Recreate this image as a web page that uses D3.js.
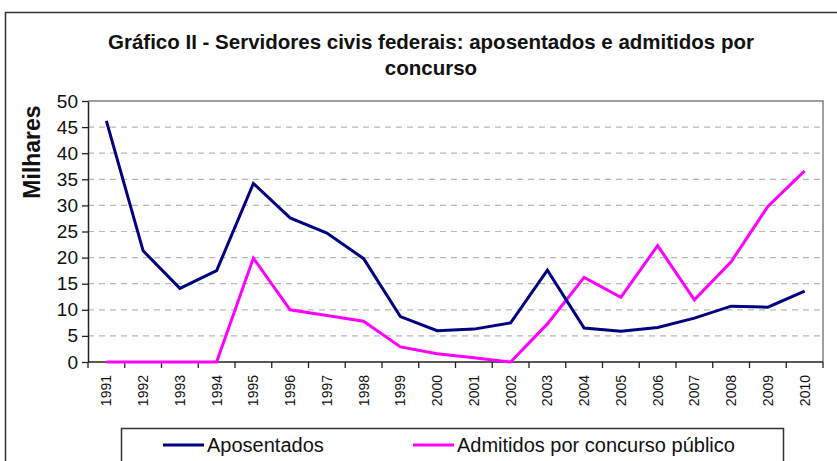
<!DOCTYPE html>
<html>
<head>
<meta charset="utf-8">
<script src="https://cdn.jsdelivr.net/npm/d3@7"></script>
<style>
  body { margin: 0; background: #fff; }
  text { font-family: "Liberation Sans", Arial, sans-serif; }
</style>
</head>
<body>
<script>
// chart values
var YEARS = ["1991", "1992", "1993", "1994", "1995", "1996", "1997", "1998", "1999", "2000",
             "2001", "2002", "2003", "2004", "2005", "2006", "2007", "2008", "2009", "2010"];
var APOSENTADOS = [46.2, 21.3, 14.1, 17.5, 34.2, 27.6, 24.7, 19.8, 8.7, 6.0,
                   6.3, 7.5, 17.6, 6.5, 5.9, 6.6, 8.4, 10.7, 10.5, 13.6];
var ADMITIDOS = [0, 0, 0, 0, 19.9, 10.0, 8.9, 7.8, 2.9, 1.6,
                 0.8, 0, 7.3, 16.2, 12.4, 22.3, 11.9, 19.2, 29.8, 36.6];
var Y_TICKS = [0, 5, 10, 15, 20, 25, 30, 35, 40, 45, 50];
var SERIES_NAMES = ["Aposentados", "Admitidos por concurso público"];

var WIDTH = 837, HEIGHT = 461;
var NAVY = "#000080";
var MAGENTA = "#ff00ff";

var PLOT_LEFT = 88, PLOT_RIGHT = 823, PLOT_TOP = 101, PLOT_BOTTOM = 362;

var svg = d3.select("body").append("svg")
              .attr("width", WIDTH)
              .attr("height", HEIGHT);

svg.append("rect").attr("width", WIDTH).attr("height", HEIGHT).attr("fill", "#fff");

// outer frame (runs off the right and bottom edges)
svg.append("rect")
      .attr("x", 5.5).attr("y", 12.5)
      .attr("width", 900).attr("height", 600)
      .attr("fill", "none")
      .attr("stroke", "#333")
      .attr("stroke-width", 1.5);

// title
var title = svg.append("text")
      .attr("x", 431)
      .attr("text-anchor", "middle")
      .style("font-weight", "bold")
      .style("font-size", "20.5px")
      .attr("fill", "#111");
title.append("tspan").attr("x", 431).attr("y", 49)
      .text("Gráfico II - Servidores civis federais: aposentados e admitidos por");
title.append("tspan").attr("x", 431).attr("y", 75).text("concurso");

var x = d3.scaleBand().domain(YEARS).range([PLOT_LEFT, PLOT_RIGHT]);
var y = d3.scaleLinear().domain([0, 50]).range([PLOT_BOTTOM, PLOT_TOP]);

// grid
svg.append("g")
      .selectAll("line")
      .data(Y_TICKS.filter(function(d) { return d > 0 && d < 50; }))
      .join("line")
      .attr("x1", PLOT_LEFT).attr("x2", PLOT_RIGHT)
      .attr("y1", function(d) { return y(d); })
      .attr("y2", function(d) { return y(d); })
      .attr("stroke", "#b8b8b8")
      .attr("stroke-width", 1.2)
      .attr("stroke-dasharray", "6,5");

// plot frame top / right
svg.append("path")
      .attr("d", "M" + PLOT_LEFT + "," + PLOT_TOP + "H" + PLOT_RIGHT + "V" + PLOT_BOTTOM)
      .attr("fill", "none")
      .attr("stroke", "#808080")
      .attr("stroke-width", 1.5);

// y axis
var yAxis = svg.append("g")
      .attr("transform", "translate(" + PLOT_LEFT + ",0)")
      .call(d3.axisLeft(y).tickValues(Y_TICKS).tickSize(6).tickSizeOuter(0).tickPadding(4));
yAxis.select(".domain").attr("stroke", "#222").attr("stroke-width", 1.5);
yAxis.selectAll(".tick line").attr("stroke", "#222").attr("stroke-width", 1.3);
yAxis.selectAll(".tick text")
      .style("font-size", "19px")
      .style("font-family", "'Liberation Sans', Arial, sans-serif")
      .attr("fill", "#111");

// x axis: ticks between categories
var xAxis = svg.append("g").attr("transform", "translate(0," + PLOT_BOTTOM + ")");
xAxis.append("line")
      .attr("x1", PLOT_LEFT).attr("x2", PLOT_RIGHT)
      .attr("stroke", "#222").attr("stroke-width", 1.5);
xAxis.selectAll("line.tk")
      .data(YEARS.concat(["end"]))
      .join("line")
      .attr("class", "tk")
      .attr("x1", function(d, i) { return PLOT_LEFT + i * x.step(); })
      .attr("x2", function(d, i) { return PLOT_LEFT + i * x.step(); })
      .attr("y1", 0).attr("y2", 6)
      .attr("stroke", "#222").attr("stroke-width", 1.3);
xAxis.selectAll("text")
      .data(YEARS)
      .join("text")
      .attr("transform", function(d) {
        return "translate(" + (x(d) + x.bandwidth() / 2 + 5) + ",13) rotate(-90)";
      })
      .attr("text-anchor", "end")
      .style("font-size", "14px")
      .attr("fill", "#111")
      .text(function(d) { return d; });

// y axis title
svg.append("text")
      .attr("transform", "translate(40,152) rotate(-90)")
      .attr("text-anchor", "middle")
      .style("font-weight", "bold")
      .style("font-size", "23px")
      .attr("fill", "#111")
      .text("Milhares");

// lines
var line = d3.line()
      .x(function(d, i) { return x(YEARS[i]) + x.bandwidth() / 2; })
      .y(function(d) { return y(d); });

svg.append("path")
      .datum(ADMITIDOS)
      .attr("d", line)
      .attr("fill", "none")
      .attr("stroke", MAGENTA)
      .attr("stroke-width", 3);

svg.append("path")
      .datum(APOSENTADOS)
      .attr("d", line)
      .attr("fill", "none")
      .attr("stroke", NAVY)
      .attr("stroke-width", 3);

// legend
var legend = svg.append("g");
legend.append("rect")
      .attr("x", 121.5).attr("y", 428.5)
      .attr("width", 662).attr("height", 60)
      .attr("fill", "#fff")
      .attr("stroke", "#333")
      .attr("stroke-width", 1.5);

var LEGEND_X = [163, 413];
var LEGEND_COLORS = [NAVY, MAGENTA];
SERIES_NAMES.forEach(function(name, i) {
  legend.append("line")
        .attr("x1", LEGEND_X[i]).attr("x2", LEGEND_X[i] + 41)
        .attr("y1", 445).attr("y2", 445)
        .attr("stroke", LEGEND_COLORS[i])
        .attr("stroke-width", 3);
  legend.append("text")
        .attr("x", LEGEND_X[i] + 44)
        .attr("y", 452)
        .style("font-size", "20px")
        .attr("fill", "#111")
        .text(name);
});
</script>
</body>
</html>
